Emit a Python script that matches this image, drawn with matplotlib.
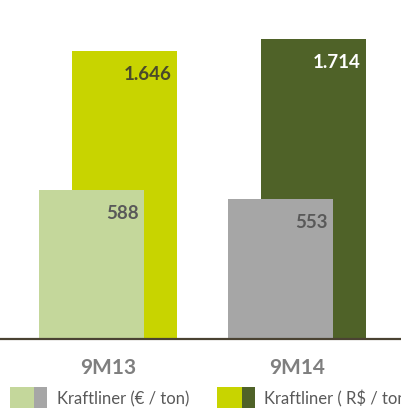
import matplotlib
matplotlib.use("Agg")
import matplotlib.pyplot as plt
from matplotlib.patches import Rectangle

# ---------------------------------------------------------------------------
# Data
# ---------------------------------------------------------------------------
categories = ["9M13", "9M14"]
eur_values = [588, 553]          # Kraftliner (€ / ton)
brl_values = [1646, 1714]        # Kraftliner (R$ / ton)
eur_labels = ["588", "553"]
brl_labels = ["1.646", "1.714"]

EUR_COLORS = ["#c4d79b", "#a6a6a6"]
BRL_COLORS = ["#c8d400", "#4f6228"]
EUR_TXT = ["#595959", "#595959"]
BRL_TXT = ["#4a4a2a", "#ffffff"]
AXIS_C = "#4a4232"
GREY_TXT = "#7f7f7f"

plt.rcParams["font.family"] = ["Lato", "DejaVu Sans"]

W, H = 402, 408
fig = plt.figure(figsize=(W / 100, H / 100), dpi=100)

# axes from baseline (y=338.5 px) to top, full width
base_px = 338.5
rect = [0, (H - base_px) / H, 1, base_px / H]
ax_brl = fig.add_axes(rect)
ax_eur = fig.add_axes(rect)
ax_eur.patch.set_visible(False)

pitch = 189.0
x0 = 108.0
xlim = (-x0 / pitch, (W - x0) / pitch)
width = 105 / pitch
off = 16.5 / pitch
xs = list(range(len(categories)))

ax_brl.set_xlim(*xlim)
ax_eur.set_xlim(*xlim)
ax_eur.set_ylim(0, base_px / 0.2525)
ax_brl.set_ylim(0, base_px / 0.1747)

brl_bars = ax_brl.bar([x + off for x in xs], brl_values, width=width,
                      color=BRL_COLORS, linewidth=0)
eur_bars = ax_eur.bar([x - off for x in xs], eur_values, width=width,
                      color=EUR_COLORS, linewidth=0)

for ax, bars, vals, labs, cols in [
        (ax_brl, brl_bars, brl_values, brl_labels, BRL_TXT),
        (ax_eur, eur_bars, eur_values, eur_labels, EUR_TXT)]:
    for b, v, lab, c in zip(bars, vals, labs, cols):
        ax.annotate(lab, xy=(b.get_x() + b.get_width(), v),
                    xytext=(-4, -17), textcoords="offset points",
                    ha="right", va="center", fontsize=13.5,
                    fontweight="bold", color=c)

for ax in (ax_brl, ax_eur):
    for s in ax.spines.values():
        s.set_visible(False)
    ax.set_yticks([])

ax_brl.set_xticks([])
ax_eur.set_xticks(xs)
ax_eur.set_xticklabels(categories, fontsize=15, fontweight="bold",
                       color=GREY_TXT)
ax_eur.tick_params(axis="x", length=0, pad=14)
ax_eur.axhline(0, color=AXIS_C, linewidth=1.6, clip_on=False)

# legend (two-tone swatches)
def swatch(x, w, color):
    fig.patches.append(Rectangle((x / W, 0), w / W, 21 / H,
                                 transform=fig.transFigure,
                                 facecolor=color, edgecolor="none"))

swatch(10, 24, EUR_COLORS[0])
swatch(34, 13, EUR_COLORS[1])
swatch(217, 25, BRL_COLORS[0])
swatch(242, 13, BRL_COLORS[1])
fig.text(57 / W, 1 - 399 / H, "Kraftliner (€ / ton)", fontsize=12,
         color="#595959", ha="left", va="center")
fig.text(264 / W, 1 - 399 / H, "Kraftliner ( R$ / ton)", fontsize=12,
         color="#595959", ha="left", va="center")

fig.savefig("out.png", dpi=100)
